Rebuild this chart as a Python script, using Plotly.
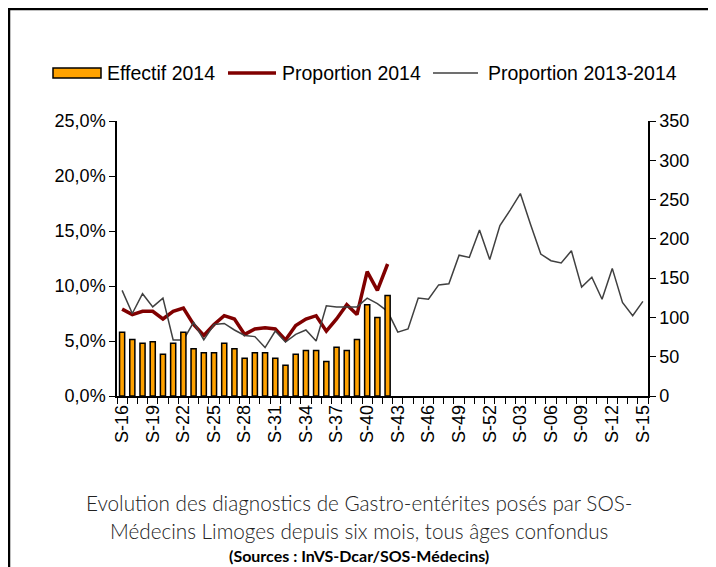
import plotly.graph_objects as go

weeks = ["S-16", "S-17", "S-18", "S-19", "S-20", "S-21", "S-22", "S-23", "S-24", "S-25",
         "S-26", "S-27", "S-28", "S-29", "S-30", "S-31", "S-32", "S-33", "S-34", "S-35",
         "S-36", "S-37", "S-38", "S-39", "S-40", "S-41", "S-42", "S-43", "S-44", "S-45",
         "S-46", "S-47", "S-48", "S-49", "S-50", "S-51", "S-52", "S-01", "S-02", "S-03",
         "S-04", "S-05", "S-06", "S-07", "S-08", "S-09", "S-10", "S-11", "S-12", "S-13",
         "S-14", "S-15"]

effectif_2014 = [81, 72, 67, 69, 53, 67, 81, 60, 55, 55, 67, 60, 48, 55, 55, 48, 39, 53,
                 58, 58, 44, 62, 58, 72, 116, 100, 128]

proportion_2014 = [7.9, 7.4, 7.7, 7.7, 7.0, 7.7, 8.0, 6.5, 5.5, 6.5, 7.3, 7.0, 5.6, 6.1,
                   6.2, 6.1, 5.1, 6.4, 7.0, 7.3, 5.9, 7.0, 8.3, 7.4, 11.3, 9.6, 12.0]

proportion_2013_2014 = [9.6, 7.5, 9.3, 8.1, 8.9, 5.1, 5.1, 6.7, 5.1, 6.5, 6.6, 6.0, 5.5,
                        5.4, 4.4, 5.9, 4.9, 5.6, 6.0, 5.0, 8.2, 8.1, 8.1, 8.1, 8.9, 8.4,
                        7.7, 5.8, 6.1, 8.9, 8.8, 10.1, 10.2, 12.8, 12.6, 15.1, 12.4, 15.5,
                        16.9, 18.4, 15.6, 12.9, 12.3, 12.1, 13.2, 9.9, 10.8, 8.8, 11.6,
                        8.5, 7.3, 8.6]

left_ticks = [0, 5, 10, 15, 20, 25]
left_tick_labels = ["0,0%", "5,0%", "10,0%", "15,0%", "20,0%", "25,0%"]
right_ticks = [0, 50, 100, 150, 200, 250, 300, 350]

tick_text = [w if i % 3 == 0 else "" for i, w in enumerate(weeks)]

COL_BAR = "#FFA200"
COL_P14 = "#800000"
COL_P1314 = "#404040"

AX_FONT = dict(family="Liberation Sans, Arial, sans-serif", size=18, color="black")
LEG_FONT = dict(family="Liberation Sans, Arial, sans-serif", size=19.5, color="black")

fig = go.Figure()

fig.add_trace(go.Bar(
    x=weeks[:len(effectif_2014)], y=effectif_2014, name="Effectif 2014",
    yaxis="y2", width=0.5,
    marker=dict(color=COL_BAR, line=dict(color="black", width=1.5)),
))
fig.add_trace(go.Scatter(
    x=weeks[:len(proportion_2014)], y=proportion_2014, name="Proportion 2014",
    mode="lines", line=dict(color=COL_P14, width=3.5),
))
fig.add_trace(go.Scatter(
    x=weeks, y=proportion_2013_2014, name="Proportion 2013-2014",
    mode="lines", line=dict(color=COL_P1314, width=1.5),
))

# plot area in figure pixels: x 109..640, y 113..388
L, R, T, B = 109, 640, 113, 388
W, H = R - L, B - T


def px(x):
    return (x - L) / W


def py(y):
    return (B - y) / H


fig.update_layout(
    width=716, height=567,
    margin=dict(l=L, r=716 - R, t=T, b=567 - B),
    paper_bgcolor="white", plot_bgcolor="white",
    showlegend=False,
    xaxis=dict(
        type="category", categoryorder="array", categoryarray=weeks,
        range=[-0.5, len(weeks) - 0.5],
        tickmode="array", tickvals=weeks, ticktext=tick_text, tickangle=-90,
        tickson="boundaries", ticks="outside", ticklen=6, tickwidth=1.2, tickcolor="black",
        showline=True, linecolor="black", linewidth=1.5, showgrid=False,
        tickfont=AX_FONT, zeroline=False,
    ),
    yaxis=dict(
        range=[0, 25], tickmode="array", tickvals=left_ticks, ticktext=left_tick_labels,
        ticks="outside", ticklen=6, tickwidth=1.2, tickcolor="black",
        showline=True, linecolor="black", linewidth=1.5, showgrid=False,
        zeroline=False, tickfont=AX_FONT,
    ),
    yaxis2=dict(
        range=[0, 350], tickvals=right_ticks, overlaying="y", side="right",
        ticks="outside", ticklen=6, tickwidth=1.2, tickcolor="black",
        showline=True, linecolor="black", linewidth=1.5, showgrid=False,
        zeroline=False, tickfont=AX_FONT,
    ),
    yaxis3=dict(
        range=[0, 350], tickvals=right_ticks, overlaying="y", side="right",
        anchor="x", ticks="inside", ticklen=6, tickwidth=1.2, tickcolor="black",
        showline=False, showgrid=False, zeroline=False, showticklabels=False,
    ),
)

# legend drawn with shapes + text
leg_y = py(65)
fig.add_shape(type="rect", xref="paper", yref="paper", x0=px(45), x1=px(93),
              y0=py(70), y1=py(60), fillcolor=COL_BAR, line=dict(color="black", width=1.5))
fig.add_shape(type="line", xref="paper", yref="paper", x0=px(220), x1=px(268),
              y0=leg_y, y1=leg_y, line=dict(color=COL_P14, width=3.5))
fig.add_shape(type="line", xref="paper", yref="paper", x0=px(425), x1=px(470),
              y0=leg_y, y1=leg_y, line=dict(color=COL_P1314, width=1.5))
for xx, label in [(97, "Effectif 2014"), (272, "Proportion 2014"), (478, "Proportion 2013-2014")]:
    fig.add_annotation(text=label, xref="paper", yref="paper", x=px(xx), y=leg_y,
                       xanchor="left", yanchor="middle", showarrow=False, font=LEG_FONT)

TITLE_FONT = dict(family="Lato, Open Sans, sans-serif", size=20.7, color="#222222", weight=300)
fig.add_annotation(text="Evolution des diagnostics de Gastro-entérites posés par SOS-",
                   xref="paper", yref="paper", x=px(350.5), y=py(495), xanchor="center",
                   yanchor="middle", showarrow=False, font=TITLE_FONT)
fig.add_annotation(text="Médecins Limoges depuis six mois, tous âges confondus",
                   xref="paper", yref="paper", x=px(350.5), y=py(523), xanchor="center",
                   yanchor="middle", showarrow=False, font=TITLE_FONT)
fig.add_annotation(text="(Sources : InVS-Dcar/SOS-Médecins)",
                   xref="paper", yref="paper", x=px(350.5), y=py(547), xanchor="center",
                   yanchor="middle", showarrow=False,
                   font=dict(family="Lato, Open Sans, sans-serif", size=16, color="black", weight=700))

# frame around the figure (top and left)
fig.add_shape(type="line", xref="paper", yref="paper", x0=px(0), x1=px(716), y0=py(1), y1=py(1),
              line=dict(color="black", width=2.5))
fig.add_shape(type="line", xref="paper", yref="paper", x0=px(1), x1=px(1), y0=py(0), y1=py(567),
              line=dict(color="black", width=2.5))

fig.write_html("out.html")
